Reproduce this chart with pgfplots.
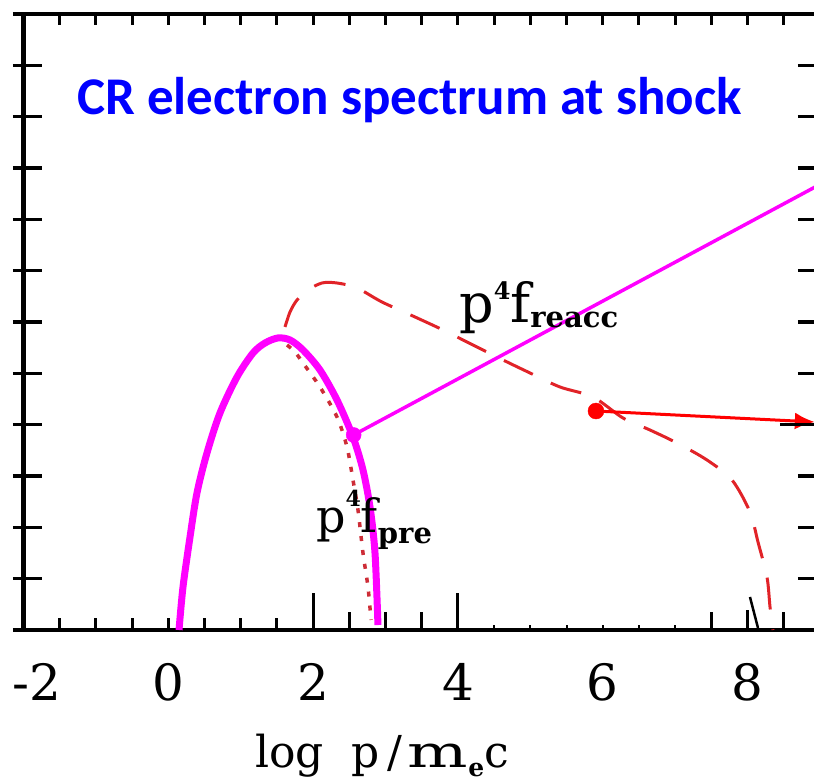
\documentclass[border=0pt]{standalone}
\usepackage{fontspec}
\usepackage{pgfplots}
\pgfplotsset{compat=1.18}
\usetikzlibrary{arrows.meta}
\setmainfont{DejaVu Serif}
\newfontfamily\titlefont{Carlito}

\definecolor{fitmagenta}{RGB}{255,0,255}
\definecolor{reaccred}{RGB}{225,35,40}
\definecolor{prered}{RGB}{205,45,55}
\definecolor{titleblue}{RGB}{0,0,255}

\begin{document}
\begin{tikzpicture}[trim left=-23.5bp, trim right=790.5bp]
\path (-23.5bp,-154bp) rectangle (790.5bp,630bp);
\begin{axis}[
  scale only axis,
  width=796.4bp, height=616bp,
  xmin=-2, xmax=9, ymin=0, ymax=12,
  axis line style={line width=4bp},
  xtick={-2,0,2,4,6,8},
  xticklabels={{\hspace*{26bp}-2},0,2,4,6,8},
  ytick=\empty,
  major tick length=0pt,
  xticklabel style={font=\fontsize{50bp}{50bp}\selectfont, inner sep=0pt, anchor=north, yshift=-33bp},
  clip=false,
]
% p^4 f_pre fit (thick magenta)
\addplot[fitmagenta, line width=7bp, smooth] coordinates {
  (0.148,0.0) (0.203,0.838) (0.300,1.812) (0.396,2.669) (0.534,3.448)
  (0.714,4.228) (0.949,4.929) (1.170,5.396) (1.336,5.591) (1.515,5.689)
  (1.681,5.650) (1.860,5.455) (2.095,5.065) (2.330,4.481) (2.551,3.760)
  (2.689,3.117) (2.786,2.396) (2.855,1.500) (2.896,0.097)
};
% p^4 f_pre (dotted)
\addplot[prered, line width=3.5bp, dash pattern=on 5bp off 9bp, smooth] coordinates {
  (1.640,5.552) (1.750,5.416) (1.860,5.202) (2.095,4.734) (2.330,4.150)
  (2.468,3.565) (2.551,2.922) (2.620,2.338) (2.689,1.500) (2.758,0.838)
  (2.800,0.195)
};
% p^4 f_reacc (dashed)
\addplot[reaccred, line width=3bp, dash pattern=on 32bp off 20bp, smooth] coordinates {
  (1.612,5.903) (1.681,6.195) (1.778,6.429) (1.930,6.624) (2.123,6.760)
  (2.330,6.760) (2.606,6.663) (2.951,6.390) (3.407,6.098) (3.794,5.845)
  (4.208,5.552) (4.623,5.260) (4.996,5.007) (5.410,4.734) (5.866,4.539)
  (6.280,4.130) (6.653,3.896) (7.026,3.643) (7.440,3.312) (7.786,2.922)
  (8.034,2.299) (8.145,1.714) (8.269,1.033) (8.311,0.448) (8.352,0.0)
};
% fragment of a further curve near the cutoff
\addplot[black, line width=2.5bp] coordinates {(8.034,0.643) (8.145,0.039)};
% pointer lines
\addplot[fitmagenta, line width=3.5bp] coordinates {(2.56,3.80) (9,8.68)};
\addplot[only marks, mark=*, mark size=7.5bp, fitmagenta] coordinates {(2.56,3.80)};
\addplot[red, line width=3bp, -{Latex[length=20bp,width=17bp]}] coordinates {(5.907,4.266) (8.93,4.052)};
\addplot[only marks, mark=*, mark size=8bp, red] coordinates {(5.907,4.266)};

% ticks
\pgfplotsinvokeforeach{-1.5,-1,-0.5,0,0.5,1,1.5}{\draw[line width=3bp] (axis cs:#1,0) -- ++(0pt,12bp);}
\pgfplotsinvokeforeach{2,4}{\draw[line width=3bp] (axis cs:#1,0) -- ++(0pt,37bp);}
\pgfplotsinvokeforeach{2.5,3,3.5,7.5,8.5}{\draw[line width=3bp] (axis cs:#1,0) -- ++(0pt,18bp);}
\draw[line width=3bp] (axis cs:8,0) -- ++(0pt,20bp);
\pgfplotsinvokeforeach{4.5,5,5.5,6,6.5,7}{\draw[line width=2bp] (axis cs:#1,0) -- ++(0pt,5bp);}
\pgfplotsinvokeforeach{-1.5,-1,-0.5,0,0.5,1,1.5,2,2.5,3,3.5,4,4.5,5,5.5,6,6.5,7,7.5,8,8.5}{\draw[line width=3bp] (axis cs:#1,12) -- ++(0pt,-11bp);}
\pgfplotsinvokeforeach{0,1,2,3,4,5,6,7,8,9,10,11,12}{\draw[line width=3.5bp] (axis cs:-2,#1) ++(-10.5bp,0pt) -- ++(29bp,0pt);}
\pgfplotsinvokeforeach{1,2,3,5,6,7,8,9,10,11}{\draw[line width=3.5bp] (axis cs:9,#1) ++(-22bp,0pt) -- ++(32bp,0pt);}
\draw[line width=3.5bp] (axis cs:9,4) ++(-40bp,0pt) -- ++(50bp,0pt);

% text
\node[anchor=base west, inner sep=0pt, text=titleblue, font=\titlefont\bfseries\fontsize{53bp}{53bp}\selectfont] at (axis cs:-1.261,10.033) {CR electron spectrum at shock};
\node[anchor=base west, inner sep=0pt, font=\fontsize{54bp}{54bp}\selectfont] at (axis cs:4.015,5.981)
  {p\raisebox{23bp}{\fontsize{24bp}{24bp}\selectfont\bfseries 4}f\raisebox{-5bp}{\fontsize{29bp}{29bp}\selectfont\bfseries reacc}};
\node[anchor=base west, inner sep=0pt, font=\fontsize{46bp}{46bp}\selectfont] at (axis cs:2.040,1.909)
  {p\raisebox{26bp}{\fontsize{22bp}{22bp}\selectfont\bfseries 4}f\raisebox{-11bp}{\fontsize{29bp}{29bp}\selectfont\bfseries pre}};
\node[anchor=base west, inner sep=0pt, font=\fontsize{44bp}{44bp}\selectfont] at (axis cs:1.198,-2.669)
  {log\hspace{28bp}p\kern7bp/\kern6bp\scalebox{1.45}[1]{m}\raisebox{-9bp}{\fontsize{25bp}{25bp}\selectfont\bfseries e}c};
\end{axis}
\end{tikzpicture}
\end{document}
